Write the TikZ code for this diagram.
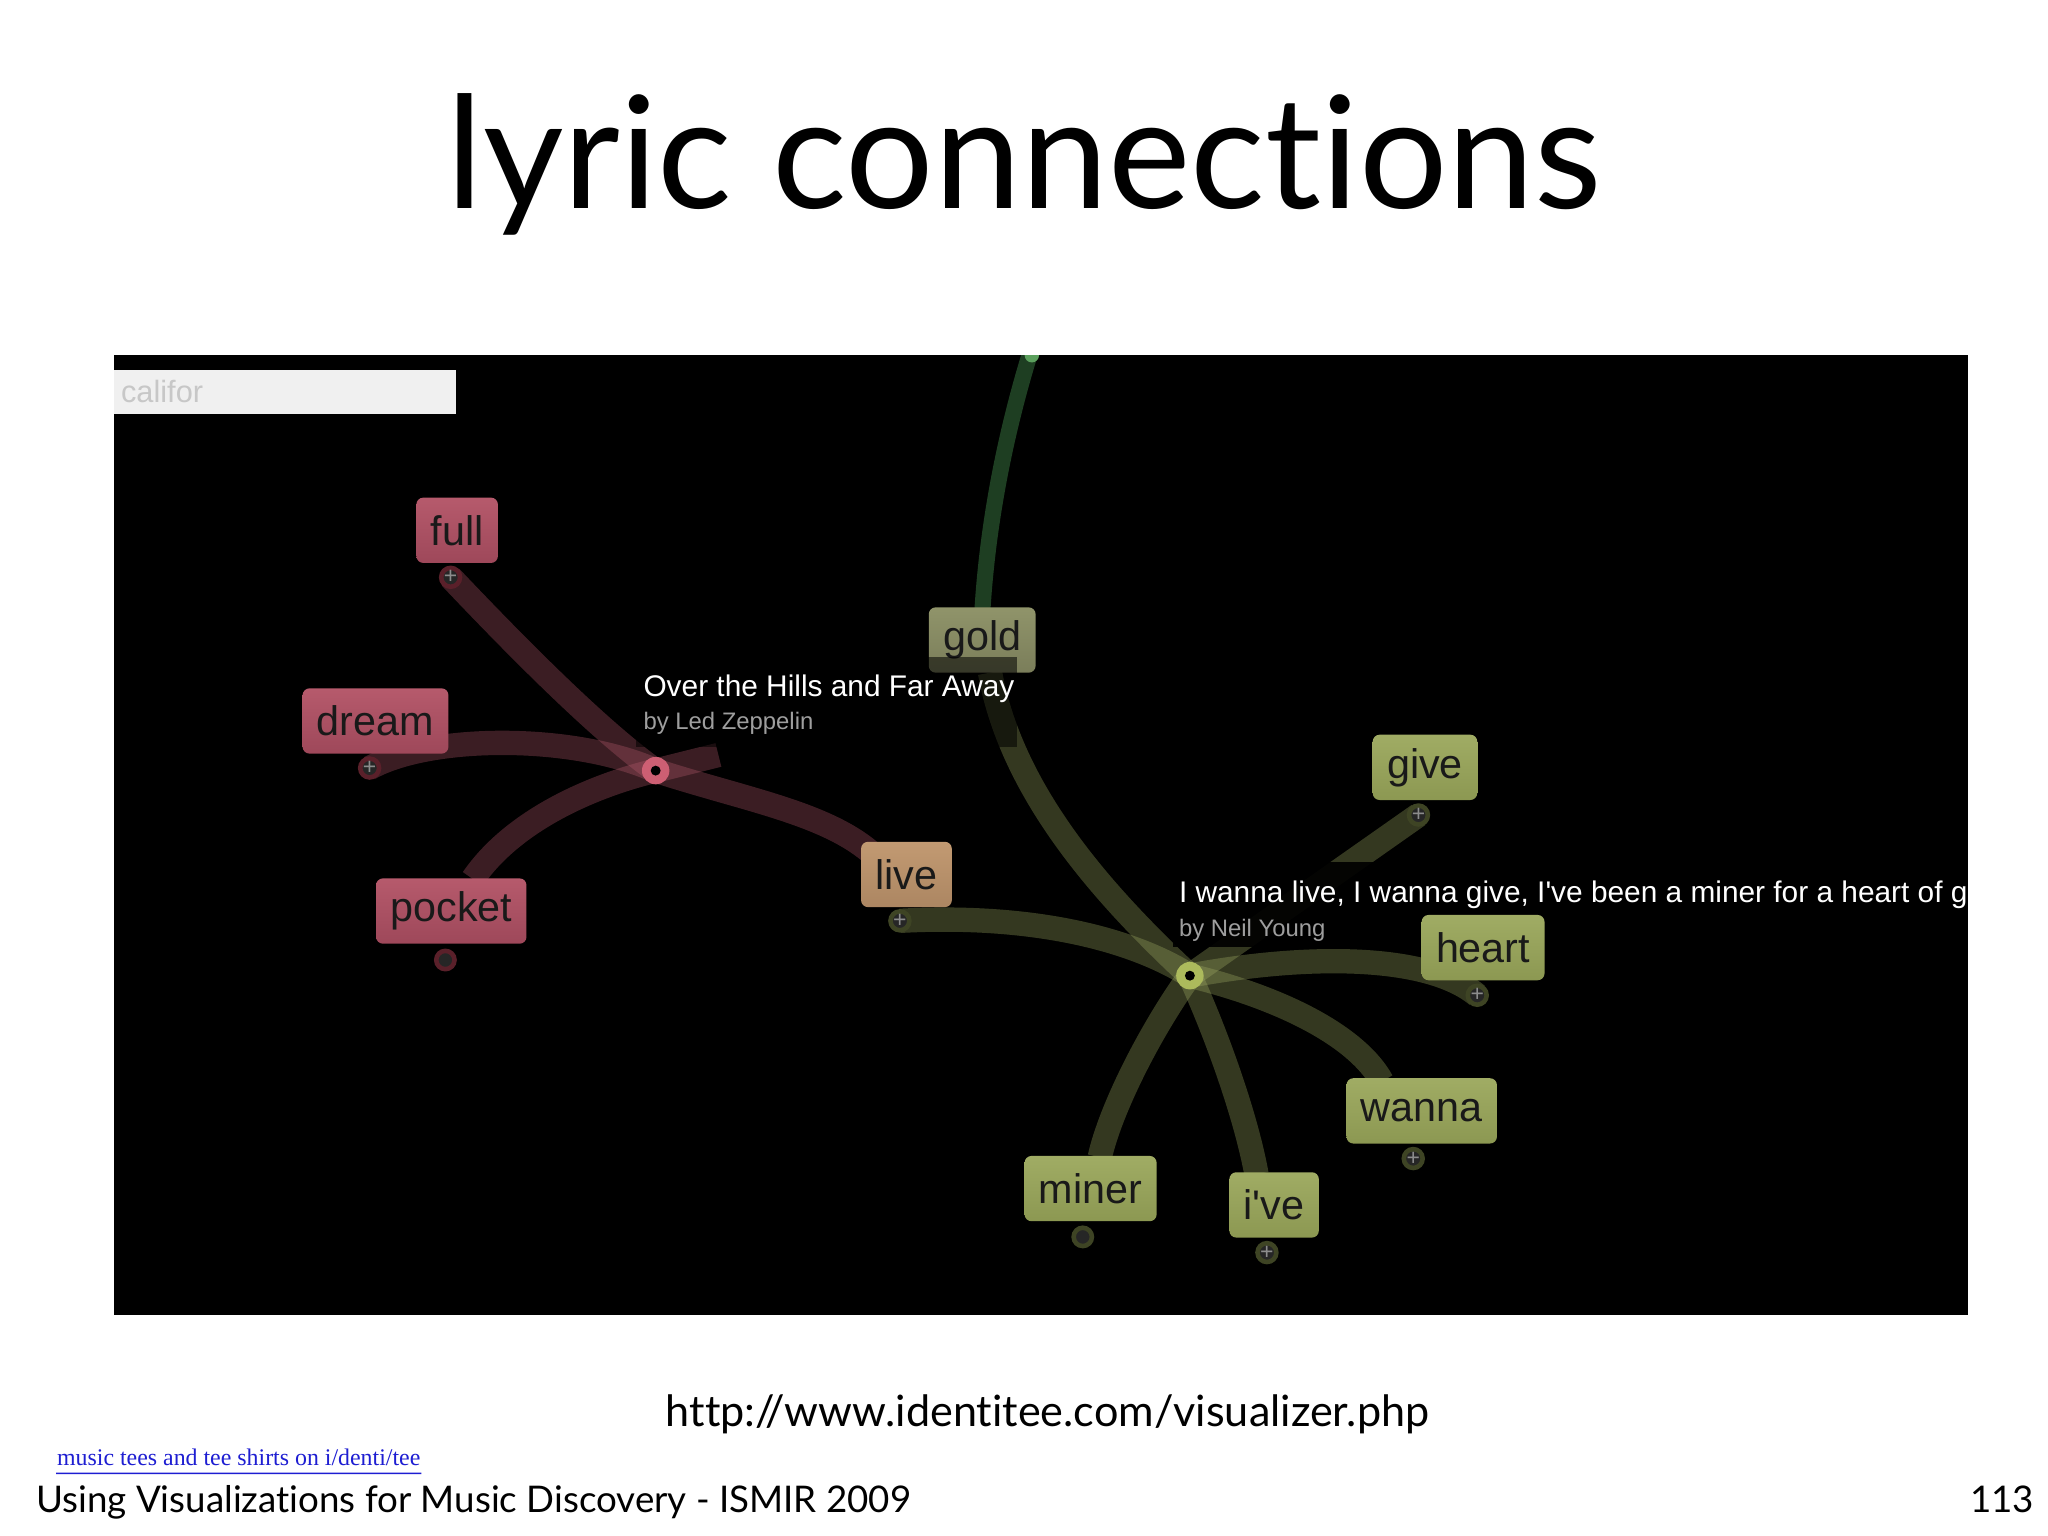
\documentclass[tikz,border=0pt]{standalone}
\usepackage{fontspec}
\setmainfont{Lato}[Ligatures={NoCommon,NoRare,NoDiscretionary}, Contextuals=NoAlternate]
\newfontfamily\appfont{Liberation Sans}
\newfontfamily\linkfont{Liberation Serif}
\usetikzlibrary{positioning}
\definecolor{rednode}{RGB}{182,90,108}
\definecolor{rednodelo}{RGB}{158,72,90}
\definecolor{greennode}{RGB}{160,172,100}
\definecolor{greennodelo}{RGB}{140,152,82}
\definecolor{livenode}{RGB}{194,154,114}
\definecolor{livenodelo}{RGB}{172,134,98}
\definecolor{goldnode}{RGB}{144,148,106}
\definecolor{redhub}{RGB}{205,95,115}
\definecolor{greenhub}{RGB}{172,186,92}
\definecolor{redring}{RGB}{90,32,42}
\definecolor{greenring}{RGB}{62,68,36}
\definecolor{topband}{RGB}{30,62,34}
\definecolor{linkblue}{RGB}{30,30,210}
\begin{document}
\begin{tikzpicture}[x=0.1mm, y=-0.1mm,
    word/.style={rounded corners=1.5pt, inner xsep=1.1mm, inner ysep=0pt, minimum height=5mm, text=black!90, font=\appfont\fontsize{9}{9}\selectfont},
    redword/.style={word, top color=rednode, bottom color=rednodelo},
    greenword/.style={word, top color=greennode, bottom color=greennodelo},
    redband/.style={line width=5.3pt, draw=rednode, opacity=0.33},
    greenband/.style={line width=5.3pt, draw=greennode, opacity=0.33},
    plusdot/.style={circle, fill=black!85, draw=#1, line width=1pt, minimum size=1.4mm, inner sep=0pt, text=black!45, font=\appfont\fontsize{5}{5}\selectfont},
    songtitle/.style={anchor=west, inner sep=0pt, text=white, font=\appfont\fontsize{6.5}{6.5}\selectfont},
    songby/.style={anchor=west, inner sep=0pt, text=black!38, font=\appfont\fontsize{5.2}{5.2}\selectfont}]
    \useasboundingbox (0,0) rectangle (1568,1176);
    \fill[white] (0,0) rectangle (1568,1176);

    % Slide title.
    \node[anchor=base, inner sep=0pt, font=\fontsize{34}{34}\selectfont] (title) at (784,160) {lyric connections};

    % Black panel of the visualizer with its search field.
    \fill[black] (87,272) rectangle (1507,1007);
    \fill[black!6] (87,283) rectangle (349,317);
    \node[anchor=west, inner sep=0pt, text=black!22, font=\appfont\fontsize{6.7}{6.7}\selectfont] (search) at (92,300) {califor};

    % Hubs of the two songs and the ends of the bands.
    \coordinate (zep) at (502,590);
    \coordinate (young) at (911,747);
    \coordinate (fullp) at (345,442);
    \coordinate (dreamp) at (283,588);
    \coordinate (pocketp) at (341,735);
    \coordinate (pocketc) at (362,673);
    \coordinate (livep) at (689,705);
    \coordinate (livec) at (666,652);
    \coordinate (goldc) at (758,515);
    \coordinate (givep) at (1086,624);
    \coordinate (heartp) at (1131,762);
    \coordinate (wannap) at (1082,887);
    \coordinate (wannac) at (1058,828);
    \coordinate (minerp) at (829,947);
    \coordinate (minerc) at (842,886);
    \coordinate (ivep) at (970,959);
    \coordinate (ivec) at (962,899);

    \begin{scope}
        \clip (87,272) rectangle (1507,1007);
        % Bands of the Led Zeppelin song.
        \draw[redband] (fullp) .. controls (400,500) and (460,560) .. (zep);
        \draw[redband] (dreamp) .. controls (330,562) and (440,562) .. (zep);
        \draw[redband] (pocketc) .. controls (395,625) and (460,600) .. (zep) -- (550,578);
        \draw[redband] (zep) .. controls (570,612) and (630,622) .. (livec);
        % Bands of the Neil Young song.
        \draw[line width=3.5pt, topband] (790,266) .. controls (770,330) and (756,400) .. (752,470);
        \fill[topband!70!green!70!white] (790,272) circle (0.55mm);
        \draw[greenband] (goldc) .. controls (775,610) and (850,690) .. (young);
        \draw[greenband] (livep) .. controls (780,700) and (860,715) .. (young);
        \draw[greenband] (givep) -- (young);
        \draw[greenband] (young) .. controls (990,732) and (1090,728) .. (heartp);
        \draw[greenband] (young) .. controls (985,765) and (1040,795) .. (wannac);
        \draw[greenband] (young) .. controls (935,800) and (955,860) .. (ivec);
        \draw[greenband] (young) .. controls (880,790) and (850,850) .. (minerc);

        \node[word, top color=goldnode, bottom color=goldnode!85!black] (gold) at (752,490) {gold};

        % Captions of the two songs, on dimmed black.
        \fill[black, opacity=0.55] (487,503) rectangle (779,572);
        \fill[black, opacity=0.92] (898,660) rectangle (1507,725);
        \node[songtitle] (zeptitle) at (492,527) {Over the Hills and Far Away};
        \node[songby] (zepby) at (492,554) {by Led Zeppelin};
        \node[songtitle] (youngtitle) at (902,685) {I wanna live, I wanna give, I\textquotesingle ve been a miner for a heart of g};
        \node[songby] (youngby) at (902,712) {by Neil Young};
    \end{scope}

    % The two hubs.
    \fill[redhub] (zep) circle (1.05mm);
    \fill[black] (zep) circle (0.38mm);
    \fill[greenhub] (young) circle (1.05mm);
    \fill[black] (young) circle (0.38mm);

    % Words.
    \node[redword] (full) at (350,406) {full};
    \node[redword] (dream) at (287.5,552) {dream};
    \node[redword] (pocket) at (345.5,697.5) {pocket};
    \node[word, top color=livenode, bottom color=livenodelo] (live) at (694,669.5) {live};
    \node[greenword] (give) at (1091,587.5) {give};
    \node[greenword] (heart) at (1135.5,725.5) {heart};
    \node[greenword] (wanna) at (1088.5,850.5) {wanna};
    \node[greenword] (miner) at (835,910) {miner};
    \node[greenword] (ive) at (975.5,922.5) {i\textquotesingle ve};

    % Expand buttons under the words.
    \foreach \p/\c in {fullp/redring, dreamp/redring, livep/greenring, givep/greenring, heartp/greenring, wannap/greenring, ivep/greenring}
        \node[plusdot=\c] at (\p) {+};
    \node[plusdot=redring] (pocketdot) at (pocketp) {};
    \node[plusdot=greenring] (minerdot) at (minerp) {};

    % Footer of the slide.
    \node[anchor=base, inner sep=0pt, font=\fontsize{9.4}{9.4}\selectfont] (url) at (802,1092) {http://www.identitee.com/visualizer.php};
    \node[anchor=base west, inner sep=0pt, text=linkblue, font=\linkfont\fontsize{5.2}{5.2}\selectfont] (link) at (43,1122) {music tees and tee shirts on i/denti/tee};
    \draw[linkblue, line width=0.3pt] (link.base west) ++(0,6) -- ([yshift=-0.6mm]link.base east);
    \node[anchor=base west, inner sep=0pt, font=\fontsize{8}{8}\selectfont] (footer) at (27,1158) {Using Visualizations for Music Discovery - ISMIR 2009};
    \node[anchor=base east, inner sep=0pt, font=\fontsize{8}{8}\selectfont] (page) at (1558,1158) {113};
\end{tikzpicture}
\end{document}
